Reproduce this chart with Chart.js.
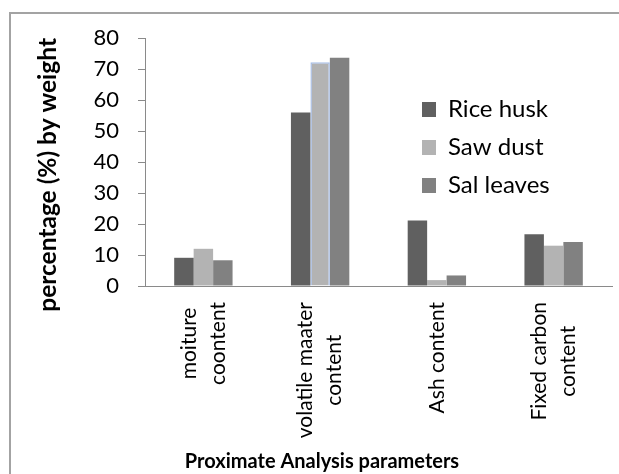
<!DOCTYPE html>
<html>
<head>
<meta charset="utf-8">
<title>Proximate Analysis</title>
<script src="https://cdn.jsdelivr.net/npm/chart.js@4/dist/chart.umd.min.js"></script>
<style>
  html, body { margin: 0; padding: 0; background: #ffffff; overflow: hidden; }
  #frame {
    position: absolute; left: 9px; top: 12px; width: 700px; height: 600px;
    border: 2px solid #a3a3a3; box-sizing: border-box;
  }
  #wrap { position: absolute; left: 0; top: 0; width: 634px; height: 474px; }
</style>
</head>
<body>
<div id="frame"></div>
<div id="wrap"><canvas id="chart" width="634" height="474"></canvas></div>
<script>
// Proximate analysis of three biomass fuels (% by weight)
const categories = [
  ['moiture', 'coontent'],
  ['volatile maater', 'content'],
  ['Ash content'],
  ['Fixed carbon', 'content']
];
const riceHusk  = [9.1, 56.0, 21.1, 16.7];
const sawDust   = [12.0, 72.2, 1.9, 13.0];
const salLeaves = [8.3, 73.6, 3.4, 14.2];
const yTicks = { min: 0, max: 80, step: 10 };

const FONT = 'Lato, "Liberation Sans", sans-serif';
const outlinedBar = 1;
const X_TITLE_SIZE = 20;

// Rotated, line-centred category labels under the x axis
const categoryLabels = {
  id: 'categoryLabels',
  afterDraw(chart) {
    const xs = chart.scales.x;
    const ctx = chart.ctx;
    const lineGap = 29;
    ctx.save();
    ctx.font = '21px ' + FONT;
    ctx.fillStyle = '#000000';
    ctx.textAlign = 'center';
    ctx.textBaseline = 'middle';
    chart.data.labels.forEach((lab, i) => {
      const lines = Array.isArray(lab) ? lab : [lab];
      const widest = Math.max(...lines.map(l => ctx.measureText(l).width));
      const x = xs.getPixelForTick(i);
      const top = xs.top + 16;
      ctx.save();
      ctx.translate(x, top + widest / 2);
      ctx.rotate(-Math.PI / 2);
      lines.forEach((l, j) => {
        ctx.fillText(l, 0, (j - (lines.length - 1) / 2) * lineGap);
      });
      ctx.restore();
    });
    ctx.restore();
  }
};

// Place the legend inside the plot, to the right of the tallest group
const legendPlacement = {
  id: 'legendPlacement',
  afterLayout(chart) {
    const lg = chart.legend;
    const area = chart.chartArea;
    const w = lg.right - lg.left, h = lg.bottom - lg.top;
    lg.left = area.left + 263;
    lg.top = area.top + 45.5;
    lg.right = lg.left + w;
    lg.bottom = lg.top + h;
  }
};

new Chart(document.getElementById('chart'), {
  type: 'bar',
  data: {
    labels: categories,
    datasets: [
      { label: 'Rice husk', data: riceHusk, backgroundColor: '#606060', borderWidth: 0 },
      {
        label: 'Saw dust', data: sawDust, backgroundColor: '#b3b3b3',
        borderColor: c => c.dataIndex === outlinedBar ? '#a9bfe6' : '#b3b3b3',
        borderWidth: c => c.dataIndex === outlinedBar ? 1.5 : 0
      },
      { label: 'Sal leaves', data: salLeaves, backgroundColor: '#818181', borderWidth: 0 }
    ]
  },
  options: {
    responsive: false,
    animation: false,
    devicePixelRatio: 1,
    layout: { padding: { left: 10, right: 0, top: 38, bottom: 0 } },
    datasets: { bar: { categoryPercentage: 0.5, barPercentage: 1.0 } },
    plugins: {
      tooltip: { enabled: false },
      legend: {
        position: 'chartArea',
        align: 'start',
        labels: {
          boxWidth: 14, boxHeight: 15, padding: 14,
          color: '#000000', font: { family: FONT, size: 24 }
        }
      },
      title: {
        display: true,
        position: 'bottom',
        text: 'Proximate Analysis parameters',
        color: '#000000',
        font: { family: FONT, size: X_TITLE_SIZE, weight: 'bold' },
        padding: { top: 0, bottom: 0 }
      }
    },
    scales: {
      x: {
        type: 'category',
        grid: { display: false },
        border: { display: true, color: '#8a8a8a', width: 1 },
        ticks: { display: false },
        afterFit(s) { s.height = 474 - X_TITLE_SIZE * 1.2 - 286; }
      },
      y: {
        min: yTicks.min, max: yTicks.max,
        grid: { drawOnChartArea: false, drawTicks: true, tickLength: 7, color: '#8a8a8a' },
        border: { display: true, color: '#8a8a8a', width: 1 },
        ticks: {
          stepSize: yTicks.step, padding: 19, color: '#000000',
          font: { family: FONT, size: 22 }
        },
        title: {
          display: true,
          align: 'end',
          text: 'percentage (%) by weight',
          color: '#000000',
          font: { family: FONT, size: 24.5, weight: 'bold' },
          padding: { top: 23, bottom: 0 }
        },
        afterFit(s) { s.width = 135; }
      },
      pad: {
        type: 'linear',
        position: 'right',
        display: true,
        grid: { display: false },
        border: { display: false },
        ticks: { display: false },
        afterFit(s) { s.width = 22; }
      }
    }
  },
  plugins: [categoryLabels, legendPlacement]
});
</script>
</body>
</html>
